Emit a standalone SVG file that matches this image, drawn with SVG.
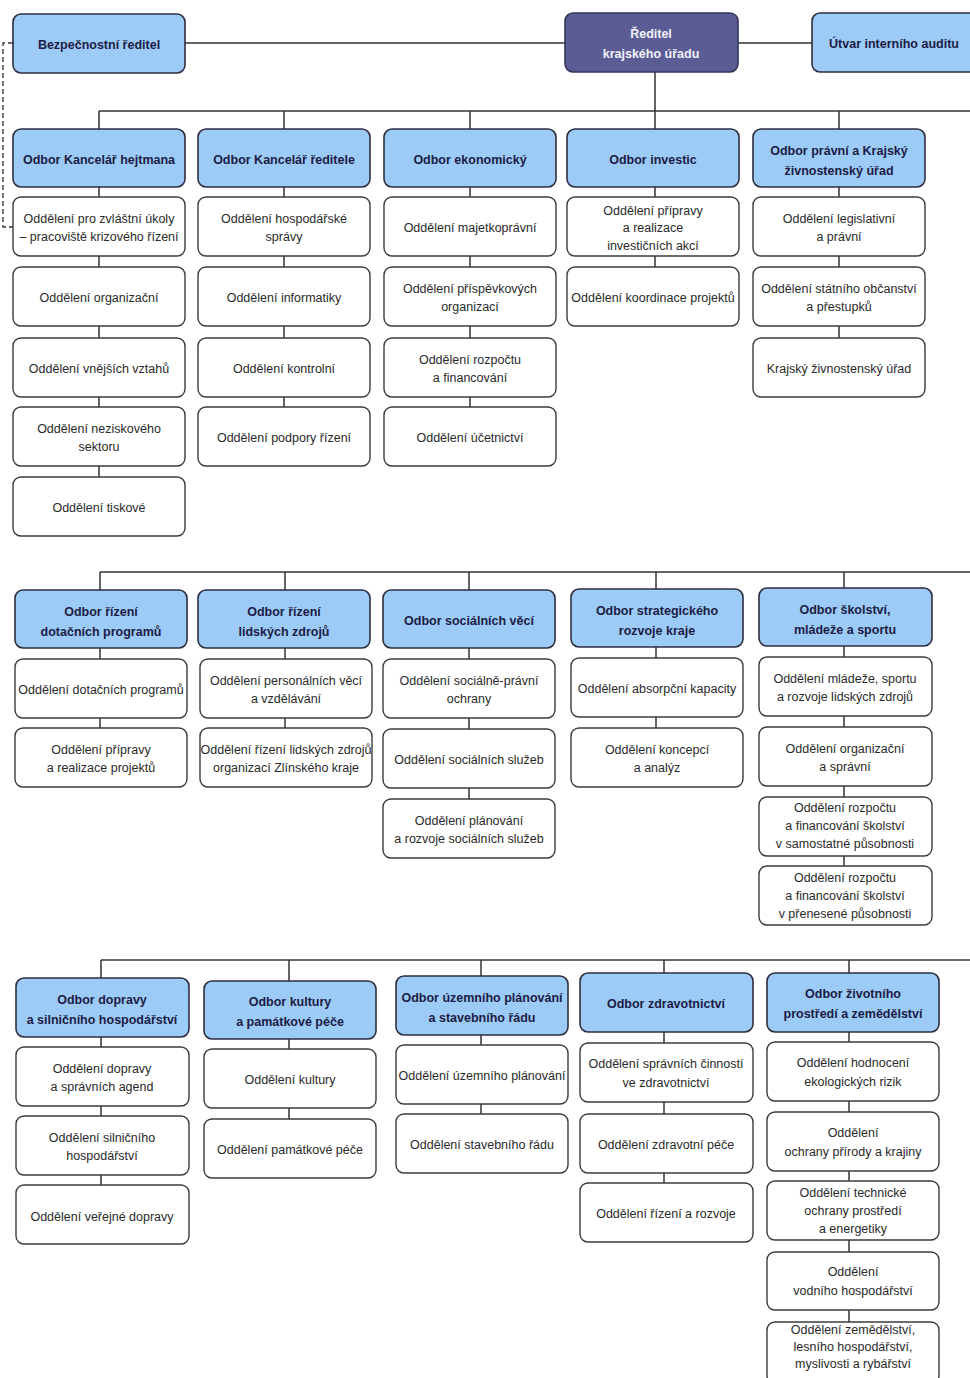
<svg xmlns="http://www.w3.org/2000/svg" width="970" height="1378" viewBox="0 0 970 1378">
  <style>
    .h rect { fill: #9ccbf8; stroke: #2e2e3e; stroke-width: 1.6; }
    .s rect { fill: #ffffff; stroke: #3c3c3c; stroke-width: 1.4; }
    .d rect { fill: #5c5c94; stroke: #35355a; stroke-width: 1.6; }
    text { text-anchor: middle; font-family: "Liberation Sans", Arial, sans-serif; }
    .h text { font-size: 12.5px; font-weight: bold; fill: #1c1c44; }
    .d text { font-size: 12.5px; font-weight: bold; fill: #f2f2fa; }
    .s text { font-size: 12.5px; fill: #2a2a2a; }
    .ln { stroke: #333333; stroke-width: 1.5; fill: none; }
    .dash { stroke: #333333; stroke-width: 1.3; fill: none; stroke-dasharray: 5 3; }
  </style>

  <!-- connectors -->
  <g id="connectors">
    <line class="ln" x1="185" y1="43" x2="565" y2="43"/>
    <line class="ln" x1="738" y1="43" x2="812" y2="43"/>
    <path class="dash" d="M13,43 H3 V227 H13"/>
    <!-- section 1 -->
    <line class="ln" x1="99" y1="111" x2="970" y2="111"/>
    <line class="ln" x1="99" y1="111" x2="99" y2="477"/>
    <line class="ln" x1="284" y1="111" x2="284" y2="407"/>
    <line class="ln" x1="470" y1="111" x2="470" y2="407"/>
    <line class="ln" x1="655" y1="72" x2="655" y2="267"/>
    <line class="ln" x1="839" y1="111" x2="839" y2="338"/>
    <!-- section 2 -->
    <line class="ln" x1="100" y1="572" x2="970" y2="572"/>
    <line class="ln" x1="100" y1="572" x2="100" y2="728"/>
    <line class="ln" x1="285" y1="572" x2="285" y2="728"/>
    <line class="ln" x1="469" y1="572" x2="469" y2="799"/>
    <line class="ln" x1="656" y1="572" x2="656" y2="728"/>
    <line class="ln" x1="844" y1="572" x2="844" y2="866"/>
    <!-- section 3 -->
    <line class="ln" x1="101" y1="960" x2="970" y2="960"/>
    <line class="ln" x1="101" y1="960" x2="101" y2="1185"/>
    <line class="ln" x1="289" y1="960" x2="289" y2="1119"/>
    <line class="ln" x1="481" y1="960" x2="481" y2="1114"/>
    <line class="ln" x1="664" y1="960" x2="664" y2="1183"/>
    <line class="ln" x1="849" y1="960" x2="849" y2="1322"/>
  </g>

  <!-- top level -->
  <g id="bezpecnostni-reditel" class="h">
    <rect x="13" y="14" width="172" height="59" rx="8"/>
    <text x="99" y="49">Bezpečnostní ředitel</text>
  </g>
  <g id="reditel" class="d">
    <rect x="565" y="13" width="173" height="59" rx="8"/>
    <text x="651" y="38">Ředitel</text>
    <text x="651" y="58">krajského úřadu</text>
  </g>
  <g id="utvar-auditu" class="h">
    <rect x="812" y="13" width="166" height="59" rx="8"/>
    <text x="894" y="48">Útvar interního auditu</text>
  </g>

  <!-- section 1, column 1 -->
  <g id="odbor-kancelar-hejtmana" class="h">
    <rect x="13" y="129" width="172" height="58" rx="8"/>
    <text x="99" y="164">Odbor Kancelář hejtmana</text>
  </g>
  <g id="odd-zvlastni-ukoly" class="s">
    <rect x="13" y="197" width="172" height="59" rx="8"/>
    <text x="99" y="223">Oddělení pro zvláštní úkoly</text>
    <text x="99" y="241">– pracoviště krizového řízení</text>
  </g>
  <g id="odd-organizacni" class="s">
    <rect x="13" y="267" width="172" height="59" rx="8"/>
    <text x="99" y="302">Oddělení organizační</text>
  </g>
  <g id="odd-vnejsich-vztahu" class="s">
    <rect x="13" y="338" width="172" height="59" rx="8"/>
    <text x="99" y="373">Oddělení vnějších vztahů</text>
  </g>
  <g id="odd-neziskoveho-sektoru" class="s">
    <rect x="13" y="407" width="172" height="59" rx="8"/>
    <text x="99" y="433">Oddělení neziskového</text>
    <text x="99" y="451">sektoru</text>
  </g>
  <g id="odd-tiskove" class="s">
    <rect x="13" y="477" width="172" height="59" rx="8"/>
    <text x="99" y="512">Oddělení tiskové</text>
  </g>

  <!-- section 1, column 2 -->
  <g id="odbor-kancelar-reditele" class="h">
    <rect x="198" y="129" width="172" height="58" rx="8"/>
    <text x="284" y="164">Odbor Kancelář ředitele</text>
  </g>
  <g id="odd-hospodarske-spravy" class="s">
    <rect x="198" y="197" width="172" height="59" rx="8"/>
    <text x="284" y="223">Oddělení hospodářské</text>
    <text x="284" y="241">správy</text>
  </g>
  <g id="odd-informatiky" class="s">
    <rect x="198" y="267" width="172" height="59" rx="8"/>
    <text x="284" y="302">Oddělení informatiky</text>
  </g>
  <g id="odd-kontrolni" class="s">
    <rect x="198" y="338" width="172" height="59" rx="8"/>
    <text x="284" y="373">Oddělení kontrolní</text>
  </g>
  <g id="odd-podpory-rizeni" class="s">
    <rect x="198" y="407" width="172" height="59" rx="8"/>
    <text x="284" y="442">Oddělení podpory řízení</text>
  </g>

  <!-- section 1, column 3 -->
  <g id="odbor-ekonomicky" class="h">
    <rect x="384" y="129" width="172" height="58" rx="8"/>
    <text x="470" y="164">Odbor ekonomický</text>
  </g>
  <g id="odd-majetkopravni" class="s">
    <rect x="384" y="197" width="172" height="59" rx="8"/>
    <text x="470" y="232">Oddělení majetkoprávní</text>
  </g>
  <g id="odd-prispevkovych-organizaci" class="s">
    <rect x="384" y="267" width="172" height="59" rx="8"/>
    <text x="470" y="293">Oddělení příspěvkových</text>
    <text x="470" y="311">organizací</text>
  </g>
  <g id="odd-rozpoctu-financovani" class="s">
    <rect x="384" y="338" width="172" height="59" rx="8"/>
    <text x="470" y="364">Oddělení rozpočtu</text>
    <text x="470" y="382">a financování</text>
  </g>
  <g id="odd-ucetnictvi" class="s">
    <rect x="384" y="407" width="172" height="59" rx="8"/>
    <text x="470" y="442">Oddělení účetnictví</text>
  </g>

  <!-- section 1, column 4 -->
  <g id="odbor-investic" class="h">
    <rect x="567" y="129" width="172" height="58" rx="8"/>
    <text x="653" y="164">Odbor investic</text>
  </g>
  <g id="odd-pripravy-investic" class="s">
    <rect x="567" y="197" width="172" height="59" rx="8"/>
    <text x="653" y="215">Oddělení přípravy</text>
    <text x="653" y="232">a realizace</text>
    <text x="653" y="250">investičních akcí</text>
  </g>
  <g id="odd-koordinace-projektu" class="s">
    <rect x="567" y="267" width="172" height="59" rx="8"/>
    <text x="653" y="302">Oddělení koordinace projektů</text>
  </g>

  <!-- section 1, column 5 -->
  <g id="odbor-pravni" class="h">
    <rect x="753" y="129" width="172" height="58" rx="8"/>
    <text x="839" y="155">Odbor právní a Krajský</text>
    <text x="839" y="175">živnostenský úřad</text>
  </g>
  <g id="odd-legislativni" class="s">
    <rect x="753" y="197" width="172" height="59" rx="8"/>
    <text x="839" y="223">Oddělení legislativní</text>
    <text x="839" y="241">a právní</text>
  </g>
  <g id="odd-obcanstvi-prestupku" class="s">
    <rect x="753" y="267" width="172" height="59" rx="8"/>
    <text x="839" y="293">Oddělení státního občanství</text>
    <text x="839" y="311">a přestupků</text>
  </g>
  <g id="krajsky-zivnostensky-urad" class="s">
    <rect x="753" y="338" width="172" height="59" rx="8"/>
    <text x="839" y="373">Krajský živnostenský úřad</text>
  </g>

  <!-- section 2, column 1 -->
  <g id="odbor-dotacnich-programu" class="h">
    <rect x="15" y="590" width="172" height="58" rx="8"/>
    <text x="101" y="616">Odbor řízení</text>
    <text x="101" y="636">dotačních programů</text>
  </g>
  <g id="odd-dotacnich-programu" class="s">
    <rect x="15" y="659" width="172" height="59" rx="8"/>
    <text x="101" y="694">Oddělení dotačních programů</text>
  </g>
  <g id="odd-pripravy-projektu" class="s">
    <rect x="15" y="728" width="172" height="59" rx="8"/>
    <text x="101" y="754">Oddělení přípravy</text>
    <text x="101" y="772">a realizace projektů</text>
  </g>

  <!-- section 2, column 2 -->
  <g id="odbor-lidskych-zdroju" class="h">
    <rect x="198" y="590" width="172" height="58" rx="8"/>
    <text x="284" y="616">Odbor řízení</text>
    <text x="284" y="636">lidských zdrojů</text>
  </g>
  <g id="odd-personalnich-veci" class="s">
    <rect x="200" y="659" width="172" height="59" rx="8"/>
    <text x="286" y="685">Oddělení personálních věcí</text>
    <text x="286" y="703">a vzdělávání</text>
  </g>
  <g id="odd-rizeni-lidskych-zdroju" class="s">
    <rect x="200" y="728" width="172" height="59" rx="8"/>
    <text x="286" y="754">Oddělení řízení lidských zdrojů</text>
    <text x="286" y="772">organizací Zlínského kraje</text>
  </g>

  <!-- section 2, column 3 -->
  <g id="odbor-socialnich-veci" class="h">
    <rect x="383" y="590" width="172" height="58" rx="8"/>
    <text x="469" y="625">Odbor sociálních věcí</text>
  </g>
  <g id="odd-socialne-pravni" class="s">
    <rect x="383" y="659" width="172" height="59" rx="8"/>
    <text x="469" y="685">Oddělení sociálně-právní</text>
    <text x="469" y="703">ochrany</text>
  </g>
  <g id="odd-socialnich-sluzeb" class="s">
    <rect x="383" y="729" width="172" height="59" rx="8"/>
    <text x="469" y="764">Oddělení sociálních služeb</text>
  </g>
  <g id="odd-planovani-sluzeb" class="s">
    <rect x="383" y="799" width="172" height="59" rx="8"/>
    <text x="469" y="825">Oddělení plánování</text>
    <text x="469" y="843">a rozvoje sociálních služeb</text>
  </g>

  <!-- section 2, column 4 -->
  <g id="odbor-strategickeho-rozvoje" class="h">
    <rect x="571" y="589" width="172" height="58" rx="8"/>
    <text x="657" y="615">Odbor strategického</text>
    <text x="657" y="635">rozvoje kraje</text>
  </g>
  <g id="odd-absorpcni-kapacity" class="s">
    <rect x="571" y="658" width="172" height="59" rx="8"/>
    <text x="657" y="693">Oddělení absorpční kapacity</text>
  </g>
  <g id="odd-koncepci-analyz" class="s">
    <rect x="571" y="728" width="172" height="59" rx="8"/>
    <text x="657" y="754">Oddělení koncepcí</text>
    <text x="657" y="772">a analýz</text>
  </g>

  <!-- section 2, column 5 -->
  <g id="odbor-skolstvi" class="h">
    <rect x="759" y="588" width="173" height="58" rx="8"/>
    <text x="845" y="614">Odbor školství,</text>
    <text x="845" y="634">mládeže a sportu</text>
  </g>
  <g id="odd-mladeze-sportu" class="s">
    <rect x="759" y="657" width="173" height="59" rx="8"/>
    <text x="845" y="683">Oddělení mládeže, sportu</text>
    <text x="845" y="701">a rozvoje lidských zdrojů</text>
  </g>
  <g id="odd-organizacni-spravni" class="s">
    <rect x="759" y="727" width="173" height="59" rx="8"/>
    <text x="845" y="753">Oddělení organizační</text>
    <text x="845" y="771">a správní</text>
  </g>
  <g id="odd-rozpoctu-samostatne" class="s">
    <rect x="759" y="797" width="173" height="59" rx="8"/>
    <text x="845" y="812">Oddělení rozpočtu</text>
    <text x="845" y="830">a financování školství</text>
    <text x="845" y="848">v samostatné působnosti</text>
  </g>
  <g id="odd-rozpoctu-prenesene" class="s">
    <rect x="759" y="866" width="173" height="59" rx="8"/>
    <text x="845" y="882">Oddělení rozpočtu</text>
    <text x="845" y="900">a financování školství</text>
    <text x="845" y="918">v přenesené působnosti</text>
  </g>

  <!-- section 3, column 1 -->
  <g id="odbor-dopravy" class="h">
    <rect x="16" y="978" width="173" height="59" rx="8"/>
    <text x="102" y="1004">Odbor dopravy</text>
    <text x="102" y="1024">a silničního hospodářství</text>
  </g>
  <g id="odd-dopravy-agend" class="s">
    <rect x="16" y="1047" width="173" height="59" rx="8"/>
    <text x="102" y="1073">Oddělení dopravy</text>
    <text x="102" y="1091">a správních agend</text>
  </g>
  <g id="odd-silnicniho-hospodarstvi" class="s">
    <rect x="16" y="1116" width="173" height="59" rx="8"/>
    <text x="102" y="1142">Oddělení silničního</text>
    <text x="102" y="1160">hospodářství</text>
  </g>
  <g id="odd-verejne-dopravy" class="s">
    <rect x="16" y="1185" width="173" height="59" rx="8"/>
    <text x="102" y="1221">Oddělení veřejné dopravy</text>
  </g>

  <!-- section 3, column 2 -->
  <g id="odbor-kultury" class="h">
    <rect x="204" y="981" width="172" height="58" rx="8"/>
    <text x="290" y="1006">Odbor kultury</text>
    <text x="290" y="1026">a památkové péče</text>
  </g>
  <g id="odd-kultury" class="s">
    <rect x="204" y="1049" width="172" height="59" rx="8"/>
    <text x="290" y="1084">Oddělení kultury</text>
  </g>
  <g id="odd-pamatkove-pece" class="s">
    <rect x="204" y="1119" width="172" height="59" rx="8"/>
    <text x="290" y="1154">Oddělení památkové péče</text>
  </g>

  <!-- section 3, column 3 -->
  <g id="odbor-uzemniho-planovani" class="h">
    <rect x="396" y="976" width="172" height="59" rx="8"/>
    <text x="482" y="1002">Odbor územního plánování</text>
    <text x="482" y="1022">a stavebního řádu</text>
  </g>
  <g id="odd-uzemniho-planovani" class="s">
    <rect x="396" y="1045" width="172" height="59" rx="8"/>
    <text x="482" y="1080">Oddělení územního plánování</text>
  </g>
  <g id="odd-stavebniho-radu" class="s">
    <rect x="396" y="1114" width="172" height="59" rx="8"/>
    <text x="482" y="1149">Oddělení stavebního řádu</text>
  </g>

  <!-- section 3, column 4 -->
  <g id="odbor-zdravotnictvi" class="h">
    <rect x="580" y="973" width="173" height="59" rx="8"/>
    <text x="666" y="1008">Odbor zdravotnictví</text>
  </g>
  <g id="odd-spravnich-cinnosti" class="s">
    <rect x="580" y="1043" width="173" height="59" rx="8"/>
    <text x="666" y="1068">Oddělení správních činností</text>
    <text x="666" y="1087">ve zdravotnictví</text>
  </g>
  <g id="odd-zdravotni-pece" class="s">
    <rect x="580" y="1114" width="173" height="59" rx="8"/>
    <text x="666" y="1149">Oddělení zdravotní péče</text>
  </g>
  <g id="odd-rizeni-rozvoje" class="s">
    <rect x="580" y="1183" width="173" height="59" rx="8"/>
    <text x="666" y="1218">Oddělení řízení a rozvoje</text>
  </g>

  <!-- section 3, column 5 -->
  <g id="odbor-zivotniho-prostredi" class="h">
    <rect x="767" y="973" width="172" height="59" rx="8"/>
    <text x="853" y="998">Odbor životního</text>
    <text x="853" y="1018">prostředí a zemědělství</text>
  </g>
  <g id="odd-ekologickych-rizik" class="s">
    <rect x="767" y="1042" width="172" height="59" rx="8"/>
    <text x="853" y="1067">Oddělení hodnocení</text>
    <text x="853" y="1086">ekologických rizik</text>
  </g>
  <g id="odd-ochrany-prirody" class="s">
    <rect x="767" y="1112" width="172" height="59" rx="8"/>
    <text x="853" y="1137">Oddělení</text>
    <text x="853" y="1156">ochrany přírody a krajiny</text>
  </g>
  <g id="odd-technicke-ochrany" class="s">
    <rect x="767" y="1181" width="172" height="59" rx="8"/>
    <text x="853" y="1197">Oddělení technické</text>
    <text x="853" y="1215">ochrany prostředí</text>
    <text x="853" y="1233">a energetiky</text>
  </g>
  <g id="odd-vodniho-hospodarstvi" class="s">
    <rect x="767" y="1252" width="172" height="58" rx="8"/>
    <text x="853" y="1276">Oddělení</text>
    <text x="853" y="1295">vodního hospodářství</text>
  </g>
  <g id="odd-zemedelstvi" class="s">
    <rect x="767" y="1322" width="172" height="62" rx="8"/>
    <text x="853" y="1334">Oddělení zemědělství,</text>
    <text x="853" y="1351">lesního hospodářství,</text>
    <text x="853" y="1368">myslivosti a rybářství</text>
  </g>
</svg>
